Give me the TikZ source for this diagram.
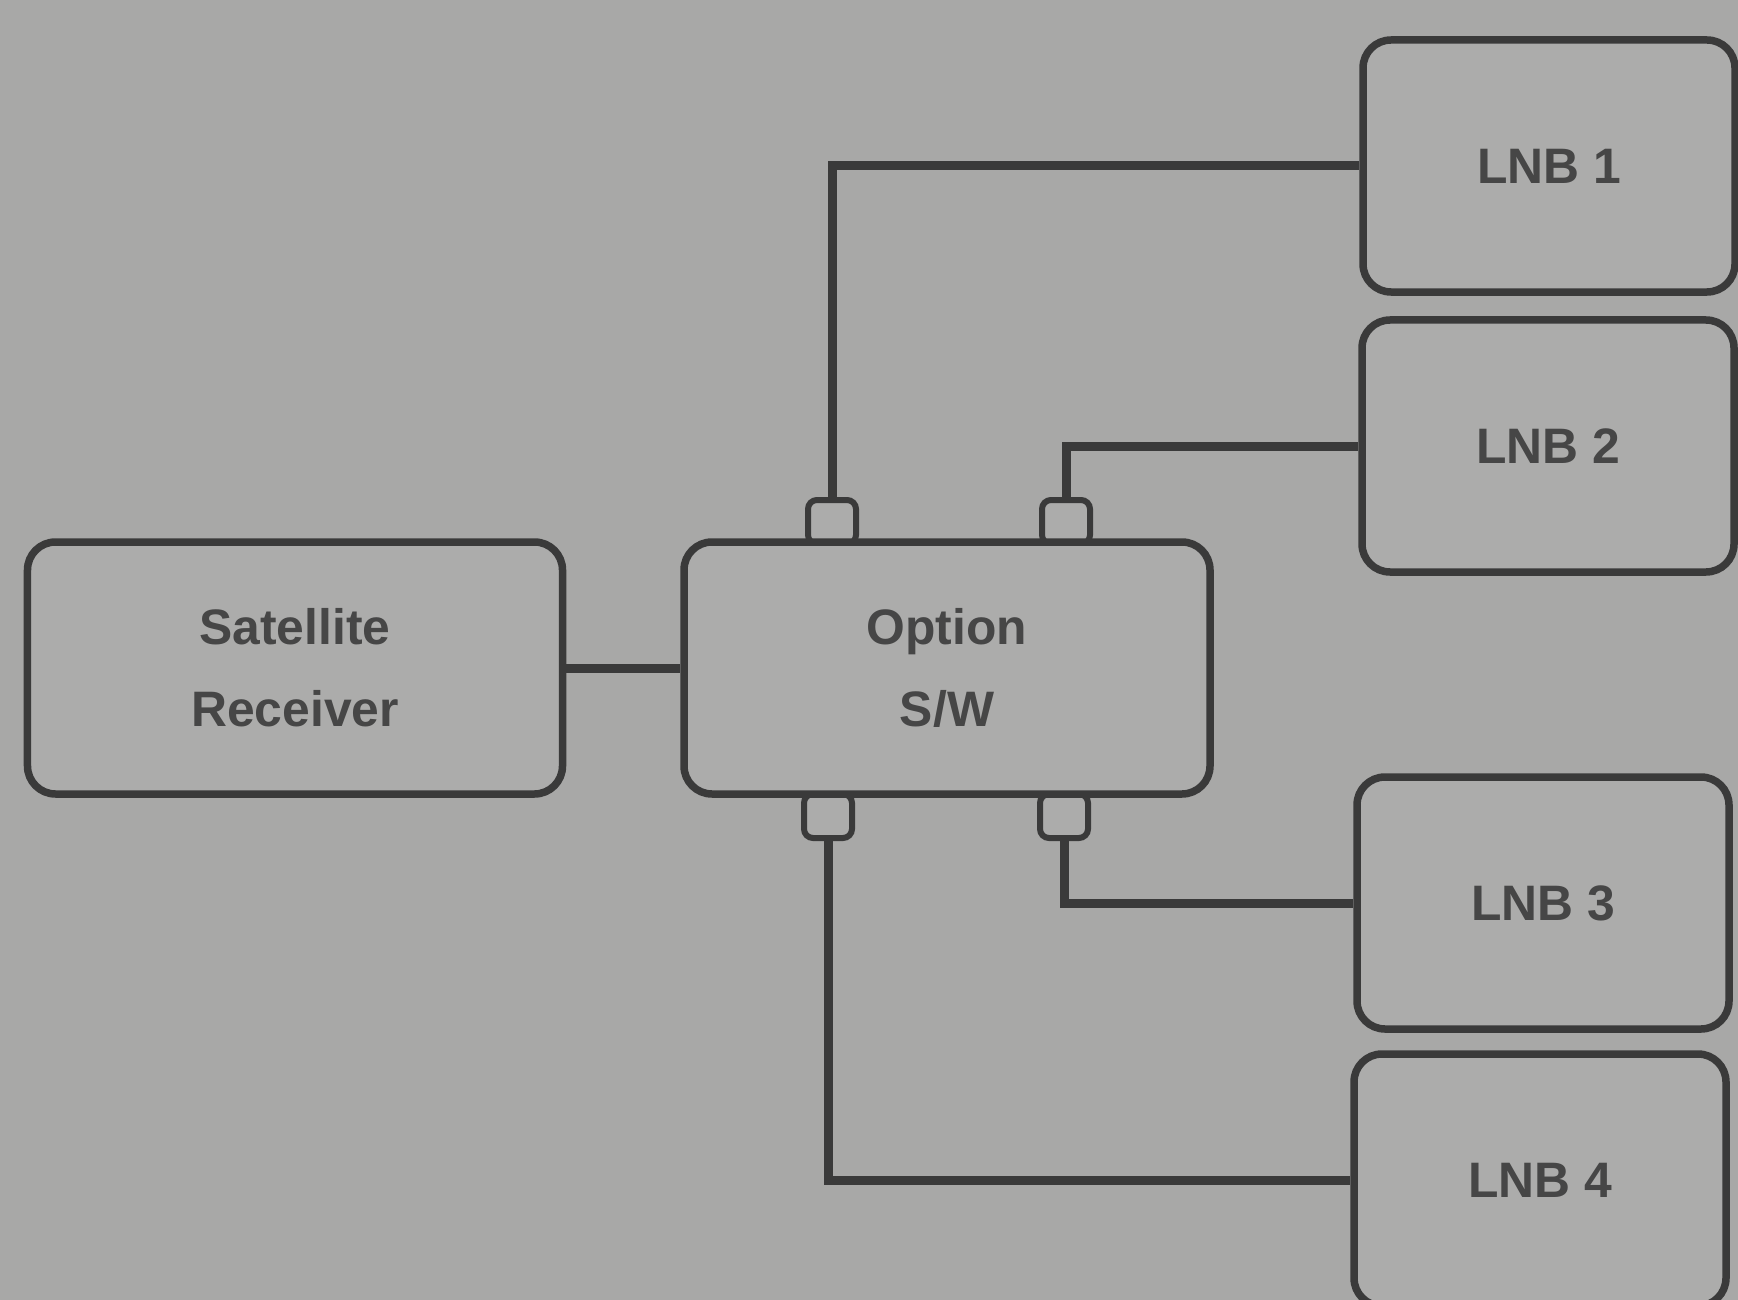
\documentclass[tikz,border=0pt]{standalone}
\usepackage{fontspec}
\setmainfont{Liberation Sans}
\definecolor{bg}{HTML}{A8A8A7}
\definecolor{boxfill}{HTML}{ACACAB}
\definecolor{ink}{HTML}{3A3A3A}
\definecolor{txt}{HTML}{464646}
\begin{document}
\begin{tikzpicture}[x=1bp,y=-1bp,
  blk/.style={draw=ink, fill=boxfill, line width=7.5bp, rounded corners=28bp,
    minimum width=#1, minimum height=252bp, inner sep=0pt, align=center,
    text=txt, font=\fontsize{50}{82}\selectfont\bfseries},
  blk/.default=372bp,
  port/.style={draw=ink, fill=boxfill, line width=6bp, rounded corners=9bp,
    minimum width=48bp, minimum height=44bp, inner sep=0pt},
  wire/.style={draw=ink, line width=9bp}]
\fill[bg] (0,0) rectangle (1738,1300);
\useasboundingbox (0,0) rectangle (1738,1300);
% ports (drawn first so the box border overlaps them)
\node[port] (p1) at (832,522) {};
\node[port] (p2) at (1066,522) {};
\node[port] (p3) at (1064,816) {};
\node[port] (p4) at (828,816) {};
% blocks
\node[blk=535bp] (sr) at (295,668) {Satellite\\Receiver};
\node[blk=526bp] (osw) at (947,668) {Option\\S/W};
\node[blk] (lnb1) at (1549,166) {LNB 1};
\node[blk] (lnb2) at (1548,446) {LNB 2};
\node[blk] (lnb3) at (1543,903) {LNB 3};
\node[blk] (lnb4) at (1540,1180) {LNB 4};
% connectors
\draw[wire] (sr.east) -- (osw.west);
\draw[wire] (p1.north) |- (lnb1.west);
\draw[wire] (p2.north) |- (lnb2.west);
\draw[wire] (p3.south) |- (lnb3.west);
\draw[wire] (p4.south) |- (lnb4.west);
\end{tikzpicture}
\end{document}
